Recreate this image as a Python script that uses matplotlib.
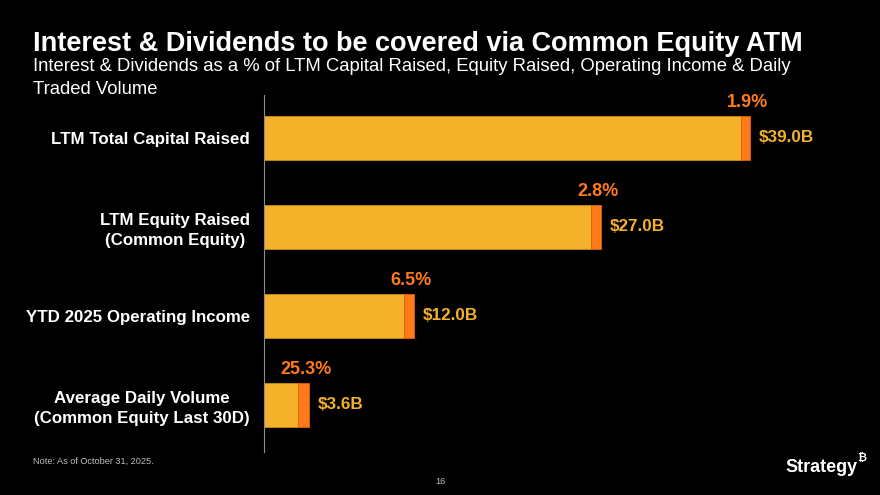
import numpy as np
from matplotlib import pyplot as plt

categories = ["LTM Total Capital Raised",
              "LTM Equity Raised\n(Common Equity)",
              "YTD 2025 Operating Income",
              "Average Daily Volume\n(Common Equity Last 30D)"]
values = [39.0, 27.0, 12.0, 3.6]            # $B
pct_labels = ["1.9%", "2.8%", "6.5%", "25.3%"]
pct_values = [1.9, 2.8, 6.5, 25.3]
value_labels = ["$39.0B", "$27.0B", "$12.0B", "$3.6B"]

YELLOW = "#F4B12A"
ORANGE = "#FF7A1A"
FONT = ["Liberation Sans", "DejaVu Sans"]

plt.rcParams["font.family"] = FONT

fig = plt.figure(figsize=(8.8, 4.95), dpi=100, facecolor="black")
ax = fig.add_axes([0.3, 0.0869, 0.682, 0.7212])
ax.set_facecolor("black")

y = np.arange(len(categories))
vals = np.array(values)
covered = vals * np.array(pct_values) / 100
rest = vals - covered

ax.barh(y, rest, height=0.494, color=YELLOW, edgecolor="#C98A10", linewidth=0.6)
ax.barh(y, covered, left=rest, height=0.494, color=ORANGE, edgecolor="#E05F00", linewidth=0.6)

for yi, v, pl, vl in zip(y, vals, pct_labels, value_labels):
    ax.text(v - 0.2, yi - 0.30, pl, color=ORANGE, fontsize=13, fontweight="bold",
            ha="center", va="bottom")
    ax.text(v + 0.7, yi, vl, color=YELLOW, fontsize=12.3, fontweight="bold",
            ha="left", va="center")

ax.set_xlim(0, 48.15)
ax.set_ylim(3.528, -0.483)
ax.set_yticks(y)
ax.set_yticklabels(categories, color="white", fontsize=12.2, fontweight="bold",
                   ha="right", multialignment="center", linespacing=1.35)
ax.tick_params(axis="y", length=0, pad=10)
ax.set_xticks([])
for side in ["top", "right", "bottom"]:
    ax.spines[side].set_visible(False)
ax.spines["left"].set_color("#8C8C8C")
ax.spines["left"].set_linewidth(0.8)

fig.text(0.0375, 0.912, "Interest & Dividends to be covered via Common Equity ATM",
         color="white", fontsize=19.5, fontweight="bold", ha="left", va="center")
fig.text(0.0375, 0.866,
         "Interest & Dividends as a % of LTM Capital Raised, Equity Raised, Operating Income & Daily",
         color="white", fontsize=13.3, ha="left", va="center")
fig.text(0.0375, 0.820, "Traded Volume",
         color="white", fontsize=13.3, ha="left", va="center")

fig.text(0.0375, 0.069, "Note: As of October 31, 2025.", color="#BFBFBF", fontsize=6.6,
         ha="left", va="center")
fig.text(0.5, 0.028, "16", color="#BFBFBF", fontsize=6.6, ha="center", va="center")
fig.text(0.975, 0.056, "Strategy", color="white", fontsize=13, fontweight="bold",
         ha="right", va="center")
fig.text(0.974, 0.074, "\u20bf", color="white", fontsize=8, fontweight="bold",
         ha="left", va="center")

fig.savefig("out.png", dpi=100, facecolor="black")
